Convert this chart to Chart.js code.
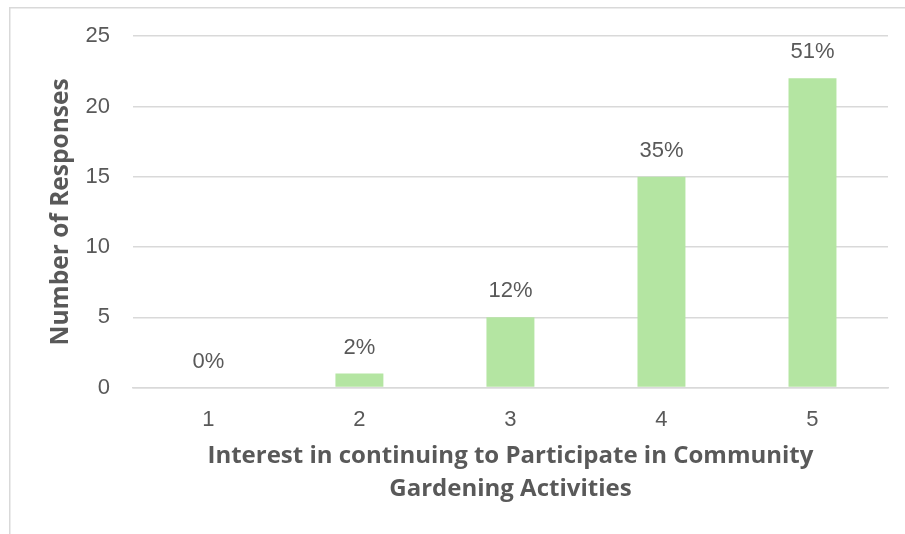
<!DOCTYPE html>
<html>
<head>
<meta charset="utf-8">
<script src="https://cdn.jsdelivr.net/npm/chart.js@4/dist/chart.umd.min.js"></script>
<style>
  html, body { margin: 0; padding: 0; background: #ffffff; }
  #wrap { position: relative; width: 905px; height: 534px; }
  canvas { display: block; }
</style>
</head>
<body>
<div id="wrap"><canvas id="chart" width="905" height="534"></canvas></div>
<script>
// Survey: interest rating (1-5) and number of responses per rating
const categories = ['1', '2', '3', '4', '5'];
const responses = [0, 1, 5, 15, 22];
const yTicks = [0, 5, 10, 15, 20, 25];

const total = responses.reduce((a, b) => a + b, 0);
const percentLabels = responses.map(v => Math.round(v / total * 100) + '%');

const NUM_FONT = '"Liberation Sans", Arial, sans-serif';
const TITLE_FONT = '"Open Sans", "Liberation Sans", sans-serif';
const TEXT = '#595959';
const GRID = '#d9d9d9';

// Light frame around the chart
const framePlugin = {
  id: 'frame',
  beforeDraw(chart) {
    const ctx = chart.ctx;
    ctx.save();
    ctx.fillStyle = '#ffffff';
    ctx.fillRect(0, 0, chart.width, chart.height);
    ctx.strokeStyle = '#d9d9d9';
    ctx.lineWidth = 1.5;
    ctx.strokeRect(9.75, 7.75, chart.width + 20, chart.height + 20);
    ctx.restore();
  }
};

// Percentage share written above each bar
const percentPlugin = {
  id: 'percentLabels',
  afterDatasetsDraw(chart) {
    const ctx = chart.ctx;
    const meta = chart.getDatasetMeta(0);
    ctx.save();
    ctx.font = '22px ' + NUM_FONT;
    ctx.fillStyle = TEXT;
    ctx.textAlign = 'center';
    ctx.textBaseline = 'middle';
    meta.data.forEach((bar, i) => {
      ctx.fillText(percentLabels[i], bar.x, bar.y - 26);
    });
    ctx.restore();
  }
};

new Chart(document.getElementById('chart'), {
  type: 'bar',
  data: {
    labels: categories,
    datasets: [{
      data: responses,
      backgroundColor: '#b4e5a2',
      borderWidth: 0,
      barPercentage: 0.635,
      categoryPercentage: 0.5
    }]
  },
  options: {
    responsive: false,
    animation: false,
    events: [],
    layout: { padding: { left: 46, right: 17, top: 36, bottom: 28 } },
    plugins: {
      legend: { display: false },
      tooltip: { enabled: false }
    },
    scales: {
      x: {
        grid: { display: false },
        border: { display: true, color: GRID, width: 1.5 },
        ticks: { color: TEXT, font: { family: NUM_FONT, size: 22 }, padding: 11 },
        title: {
          display: true,
          text: ['Interest in continuing to Participate in Community', 'Gardening Activities'],
          color: TEXT,
          font: { family: TITLE_FONT, size: 24, weight: 'bold', lineHeight: 1.375 },
          padding: { top: -4, bottom: 0 }
        }
      },
      y: {
        min: 0,
        max: 25,
        afterBuildTicks(scale) { scale.ticks = yTicks.map(v => ({ value: v })); },
        grid: { color: GRID, lineWidth: 1.5, drawTicks: false },
        border: { display: false },
        ticks: { color: TEXT, font: { family: NUM_FONT, size: 22 }, padding: 23 },
        title: {
          display: true,
          text: 'Number of Responses',
          color: TEXT,
          font: { family: TITLE_FONT, size: 24.5, weight: 'bold', lineHeight: 1.2 },
          padding: { top: 0, bottom: -13 }
        }
      }
    }
  },
  plugins: [framePlugin, percentPlugin]
});
</script>
</body>
</html>
